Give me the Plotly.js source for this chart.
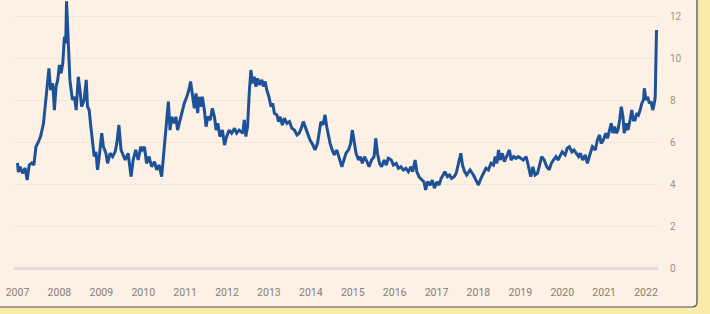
<!DOCTYPE html>
<html>
<head>
<meta charset="utf-8">
<script src="https://cdn.plot.ly/plotly-3.0.1.min.js"></script>
<style>html,body{margin:0;padding:0;background:#f9eca8;}#chart{width:710px;height:314px;}</style>
</head>
<body>
<div id="chart"></div>
<script>
// Decimal-year sample positions and the plotted series values
const years = [
2007.00,2007.02,2007.06,2007.12,2007.18,2007.23,2007.28,2007.34,2007.39,2007.44,2007.50,2007.55,2007.62,2007.66,2007.70,2007.75,2007.79,2007.84,2007.88,2007.92,2007.96,
2008.00,2008.04,2008.08,2008.12,2008.15,2008.17,2008.21,2008.25,2008.31,2008.36,2008.40,2008.45,2008.49,2008.53,2008.59,2008.64,2008.67,2008.71,2008.75,2008.80,2008.83,2008.87,2008.91,2008.95,
2009.01,2009.05,2009.11,2009.15,2009.21,2009.27,2009.33,2009.37,2009.42,2009.47,2009.53,2009.57,2009.64,2009.71,2009.76,2009.82,2009.88,2009.94,2009.98,
2010.03,2010.08,2010.14,2010.20,2010.27,2010.32,2010.38,2010.44,2010.50,2010.56,2010.60,2010.64,2010.68,2010.74,2010.78,2010.82,2010.88,2010.93,2010.98,
2011.04,2011.09,2011.13,2011.18,2011.22,2011.26,2011.30,2011.33,2011.37,2011.41,2011.46,2011.50,2011.54,2011.60,2011.65,2011.70,2011.74,2011.78,2011.83,2011.89,2011.94,2011.99,
2012.05,2012.11,2012.18,2012.23,2012.29,2012.38,2012.41,2012.45,2012.49,2012.53,2012.57,2012.61,2012.65,2012.69,2012.73,2012.77,2012.83,2012.87,2012.91,2012.95,
2013.00,2013.05,2013.09,2013.13,2013.19,2013.23,2013.27,2013.32,2013.37,2013.43,2013.49,2013.55,2013.61,2013.67,2013.72,2013.77,2013.82,2013.88,2013.93,2013.98,
2014.05,2014.10,2014.16,2014.20,2014.24,2014.29,2014.34,2014.38,2014.42,2014.46,2014.51,2014.56,2014.62,2014.67,2014.74,2014.79,2014.84,2014.90,2014.95,2014.99,
2015.03,2015.08,2015.14,2015.18,2015.23,2015.28,2015.34,2015.39,2015.45,2015.51,2015.55,2015.59,2015.64,2015.69,2015.75,2015.80,2015.85,2015.92,2015.97,
2016.04,2016.09,2016.15,2016.21,2016.27,2016.33,2016.39,2016.43,2016.49,2016.53,2016.58,2016.65,2016.70,2016.74,2016.79,2016.85,2016.90,2016.95,
2017.01,2017.06,2017.11,2017.16,2017.20,2017.26,2017.31,2017.36,2017.42,2017.47,2017.52,2017.58,2017.62,2017.67,2017.72,2017.80,2017.88,2017.94,
2018.00,2018.06,2018.12,2018.18,2018.24,2018.30,2018.36,2018.40,2018.44,2018.48,2018.52,2018.57,2018.62,2018.68,2018.74,2018.78,2018.84,2018.90,2018.95,
2019.01,2019.07,2019.14,2019.19,2019.25,2019.30,2019.35,2019.41,2019.46,2019.51,2019.57,2019.63,2019.69,2019.74,2019.79,2019.85,2019.90,2019.95,
2020.00,2020.07,2020.12,2020.17,2020.23,2020.28,2020.33,2020.39,2020.43,2020.49,2020.55,2020.60,2020.67,2020.72,2020.79,2020.84,2020.89,2020.93,2020.98,
2021.04,2021.08,2021.13,2021.17,2021.21,2021.25,2021.29,2021.33,2021.37,2021.41,2021.45,2021.48,2021.53,2021.57,2021.62,2021.66,2021.70,2021.74,2021.78,2021.82,2021.86,2021.90,2021.94,2021.96,
2022.00,2022.04,2022.08,2022.12,2022.16,2022.19,2022.22,2022.25
];
const values = [
5.03,4.60,4.85,4.54,4.79,4.22,4.93,5.03,4.93,5.80,6.04,6.28,6.91,7.70,8.49,9.52,8.49,8.81,7.54,8.65,8.97,
9.68,9.28,9.76,11.02,10.71,12.70,10.39,8.97,8.02,8.17,7.54,9.12,8.49,7.70,8.02,8.97,7.70,7.54,6.75,5.80,5.33,5.56,4.70,5.33,
6.44,5.80,5.49,5.01,5.49,5.33,5.56,5.96,6.83,5.65,5.33,5.17,5.49,4.38,5.17,5.65,5.17,5.80,5.65,
5.80,5.01,5.33,4.85,5.09,4.70,4.93,4.38,5.65,7.22,7.94,6.59,7.22,6.91,7.22,6.59,7.07,7.39,7.86,
8.17,8.49,8.89,8.17,7.62,8.33,7.39,8.17,7.70,8.17,7.54,6.75,7.22,7.07,7.62,7.22,6.59,6.91,6.28,6.59,5.88,6.28,
6.59,6.44,6.67,6.44,6.59,6.44,7.07,6.28,6.75,8.33,9.44,8.81,9.12,8.65,9.04,8.73,8.97,8.65,8.89,8.49,
8.17,7.70,7.86,7.39,7.31,6.99,7.22,6.83,7.15,6.91,6.99,6.67,6.59,6.36,6.44,6.67,6.99,6.67,6.36,6.12,
5.88,5.65,5.96,6.59,6.99,6.83,7.31,6.75,6.28,5.96,5.65,5.41,5.65,5.33,4.85,5.17,5.49,5.65,5.96,6.59,
6.12,5.49,5.17,5.33,5.01,5.33,5.09,4.85,5.17,5.33,6.20,5.49,5.01,4.85,5.17,4.93,5.25,5.17,4.93,
5.01,4.78,4.85,4.70,4.78,4.62,4.85,4.62,5.17,4.62,4.38,4.22,4.14,3.75,4.14,3.98,4.22,3.83,
4.14,3.98,4.30,4.46,4.62,4.38,4.46,4.30,4.38,4.54,4.93,5.49,4.93,4.62,4.46,4.70,4.46,4.22,
3.98,4.30,4.54,4.78,4.70,5.01,4.93,5.33,5.01,5.65,5.17,5.49,5.09,5.33,5.65,5.17,5.33,5.25,5.33,
5.25,5.17,5.33,4.85,4.38,4.85,4.46,4.54,5.01,5.33,5.17,4.85,4.70,5.01,5.17,5.33,5.17,5.41,
5.56,5.41,5.73,5.80,5.56,5.65,5.49,5.33,5.49,5.17,5.41,5.01,5.49,5.80,5.65,6.12,6.36,5.96,6.12,
6.44,6.20,6.59,6.91,6.44,6.75,6.44,6.59,7.07,7.70,7.22,6.44,6.91,6.59,7.07,7.54,7.07,7.07,7.39,7.31,7.54,7.86,8.02,8.57,
8.02,8.17,7.86,7.94,7.54,7.78,8.17,11.34
];
const xTickVals = [2007,2008,2009,2010,2011,2012,2013,2014,2015,2016,2017,2018,2019,2020,2021,2022];
const xTickText = ["2007","2008","2009","2010","2011","2012","2013","2014","2015","2016","2017","2018","2019","2020","2021","2022"];
const yTickVals = [0,2,4,6,8,10,12];
const yTickText = ["0","2","4","6","8","10","12"];

const trace = {
  x: years, y: values, type: 'scatter', mode: 'lines',
  line: {color: '#1d5299', width: 3, shape: 'linear'},
  hoverinfo: 'skip', showlegend: false
};

// card outline (paper coords relative to plot area)
const W = 644, H = 275;
const rx = 5 / W, ry = 5 / H;
const xr = (697 - 14) / W, yb = (275 - 307) / H;
const cardPath = `M -0.1 1.1 L ${xr} 1.1 L ${xr} ${yb + ry} Q ${xr} ${yb} ${xr - rx} ${yb} L -0.1 ${yb} Z`;

const layout = {
  width: 710, height: 314,
  margin: {l: 14, r: 52, t: 0, b: 39, pad: 0},
  paper_bgcolor: '#f9eca8',
  plot_bgcolor: 'rgba(0,0,0,0)',
  font: {family: 'Roboto, sans-serif', size: 10.5, color: '#857d77'},
  xaxis: {
    type: 'linear', range: [2006.916, 2022.286],
    tickvals: xTickVals, ticktext: xTickText,
    showgrid: false, zeroline: false, showline: false, ticks: '',
    ticklabelstandoff: 9, fixedrange: true
  },
  yaxis: {
    side: 'right', range: [-0.285, 12.76],
    tickvals: yTickVals, ticktext: yTickText,
    showgrid: true, gridcolor: '#f4e5d9', gridwidth: 1,
    zeroline: true, zerolinecolor: '#e4dbd3', zerolinewidth: 3,
    showline: false, ticks: '', ticklabelstandoff: 11, fixedrange: true,
    tickfont: {size: 10, color: '#9a928c'}
  },
  shapes: [{
    type: 'path', xref: 'paper', yref: 'paper', layer: 'below',
    path: cardPath,
    fillcolor: '#fdf1e6', line: {color: '#4a4a4a', width: 1.2}
  }]
};

Plotly.newPlot('chart', [trace], layout, {displayModeBar: false, staticPlot: true});
</script>
</body>
</html>
